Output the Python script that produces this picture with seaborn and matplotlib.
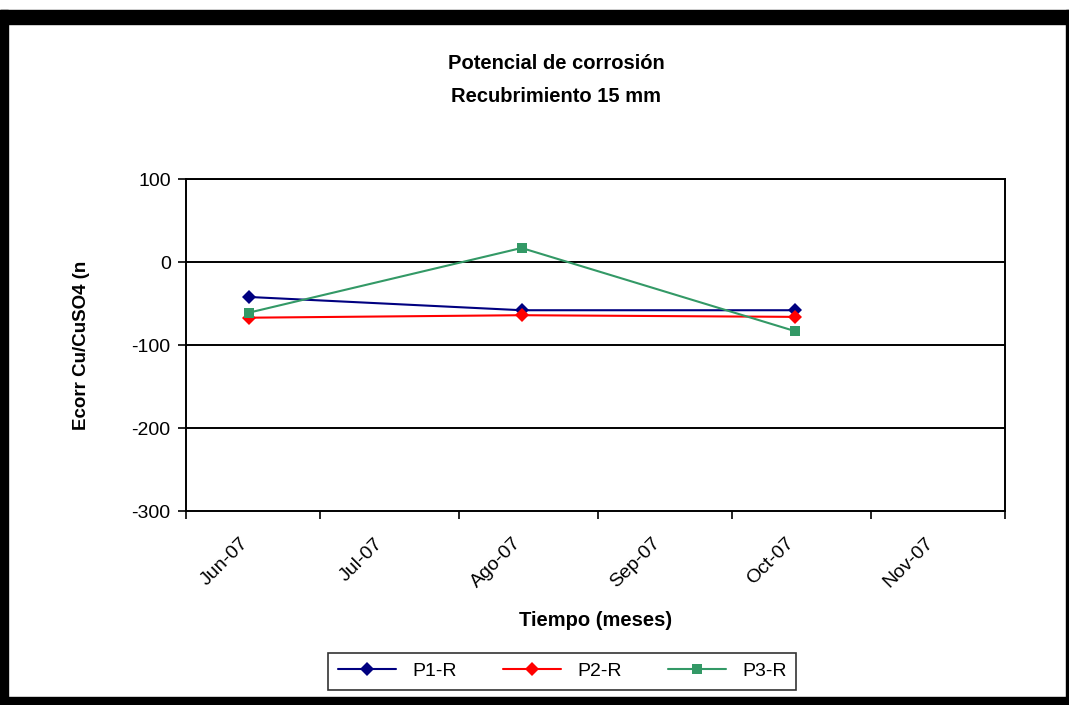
import numpy as np
import pandas as pd
import matplotlib
matplotlib.use("Agg")
import matplotlib.pyplot as plt
import matplotlib.dates as mdates
import matplotlib.ticker as mticker
from matplotlib.patches import Rectangle
import seaborn as sns

sns.set_style("white")
plt.rcParams['font.family'] = ['Liberation Sans', 'DejaVu Sans']
plt.rcParams['axes.unicode_minus'] = False
plt.rcParams['text.color'] = 'black'
plt.rcParams['axes.labelcolor'] = 'black'
plt.rcParams['xtick.color'] = 'black'
plt.rcParams['ytick.color'] = 'black'

# --- data ---
fechas = ["2007-06-15", "2007-08-15", "2007-10-15"]
p1_r = [-42, -58, -58]
p2_r = [-67, -64, -66]
p3_r = [-61, 17, -83]
series = ["P1-R", "P2-R", "P3-R"]
mes_labels = ["Jun-07", "Jul-07", "Ago-07", "Sep-07", "Oct-07", "Nov-07"]

df = pd.DataFrame({
    "fecha": pd.to_datetime(fechas * 3),
    "ecorr": p1_r + p2_r + p3_r,
    "serie": np.repeat(series, len(fechas)),
})

colors = {"P1-R": "#000080", "P2-R": "#FF0000", "P3-R": "#339966"}
markers = {"P1-R": "D", "P2-R": "D", "P3-R": "s"}

fig = plt.figure(figsize=(10.69, 7.05), dpi=100)
ax = fig.add_axes([0.174, 0.275, 0.766, 0.471])

for y in [100, 0, -100, -200]:
    ax.axhline(y, color="black", lw=1.4, zorder=1)

sns.lineplot(data=df, x="fecha", y="ecorr", hue="serie", style="serie",
             palette=colors, markers=markers, dashes=False, lw=1.5,
             markersize=7, markeredgewidth=0, ax=ax, legend=False, zorder=3)

ax.set_xlim(pd.Timestamp("2007-06-01"), pd.Timestamp("2007-12-01"))
ax.set_ylim(-300, 100)
ax.set_yticks([100, 0, -100, -200, -300])
ax.tick_params(axis="y", left=True, labelsize=14, direction="out", length=6,
               width=1.2, color="black", pad=5)

ax.xaxis.set_major_locator(mdates.MonthLocator())
ax.xaxis.set_major_formatter(mticker.NullFormatter())
ax.xaxis.set_minor_locator(mdates.MonthLocator(bymonthday=13))
ax.xaxis.set_minor_formatter(mticker.FixedFormatter(mes_labels))
ax.tick_params(axis="x", which="major", bottom=True, direction="out", length=6,
               width=1.2, color="black")
ax.tick_params(axis="x", which="minor", bottom=True, length=0, labelsize=14, pad=17)
for lab in ax.get_xticklabels(minor=True):
    lab.set_rotation(45)
    lab.set_ha("right")
    lab.set_va("top")
    lab.set_rotation_mode("anchor")

for s in ax.spines.values():
    s.set_color("black")
    s.set_linewidth(1.4)

ax.set_xlabel("Tiempo (meses)", fontsize=14.5, fontweight="bold", labelpad=14)
ax.set_ylabel("Ecorr Cu/CuSO4 (n", fontsize=13.5, fontweight="bold", labelpad=30)

fig.text(0.52, 0.91, "Potencial de corrosión", ha="center", va="center",
         fontsize=14.5, fontweight="bold")
fig.text(0.52, 0.863, "Recubrimiento 15 mm", ha="center", va="center",
         fontsize=14.5, fontweight="bold")

handles = [plt.Line2D([], [], color=colors[s], marker=markers[s], lw=1.5,
                      markersize=7, markeredgewidth=0) for s in series]
leg = fig.legend(handles, series, loc="upper center", bbox_to_anchor=(0.526, 0.088),
                 ncol=3, frameon=True, fontsize=14, handlelength=3,
                 columnspacing=2.4, fancybox=False, borderpad=0.5)
leg.get_frame().set_edgecolor("black")
leg.get_frame().set_linewidth(1.2)

# black outer frame of the picture
for rx, ry, rw, rh in [(0, 0, 8 / 1069, 695 / 705),
                       (0, 0, 1, 8 / 705),
                       (0, 681 / 705, 1, 14 / 705),
                       (1066 / 1069, 0, 3 / 1069, 695 / 705)]:
    fig.patches.append(Rectangle((rx, ry), rw, rh, transform=fig.transFigure,
                                 color="black", zorder=10))

fig.savefig("out.png", dpi=100)
